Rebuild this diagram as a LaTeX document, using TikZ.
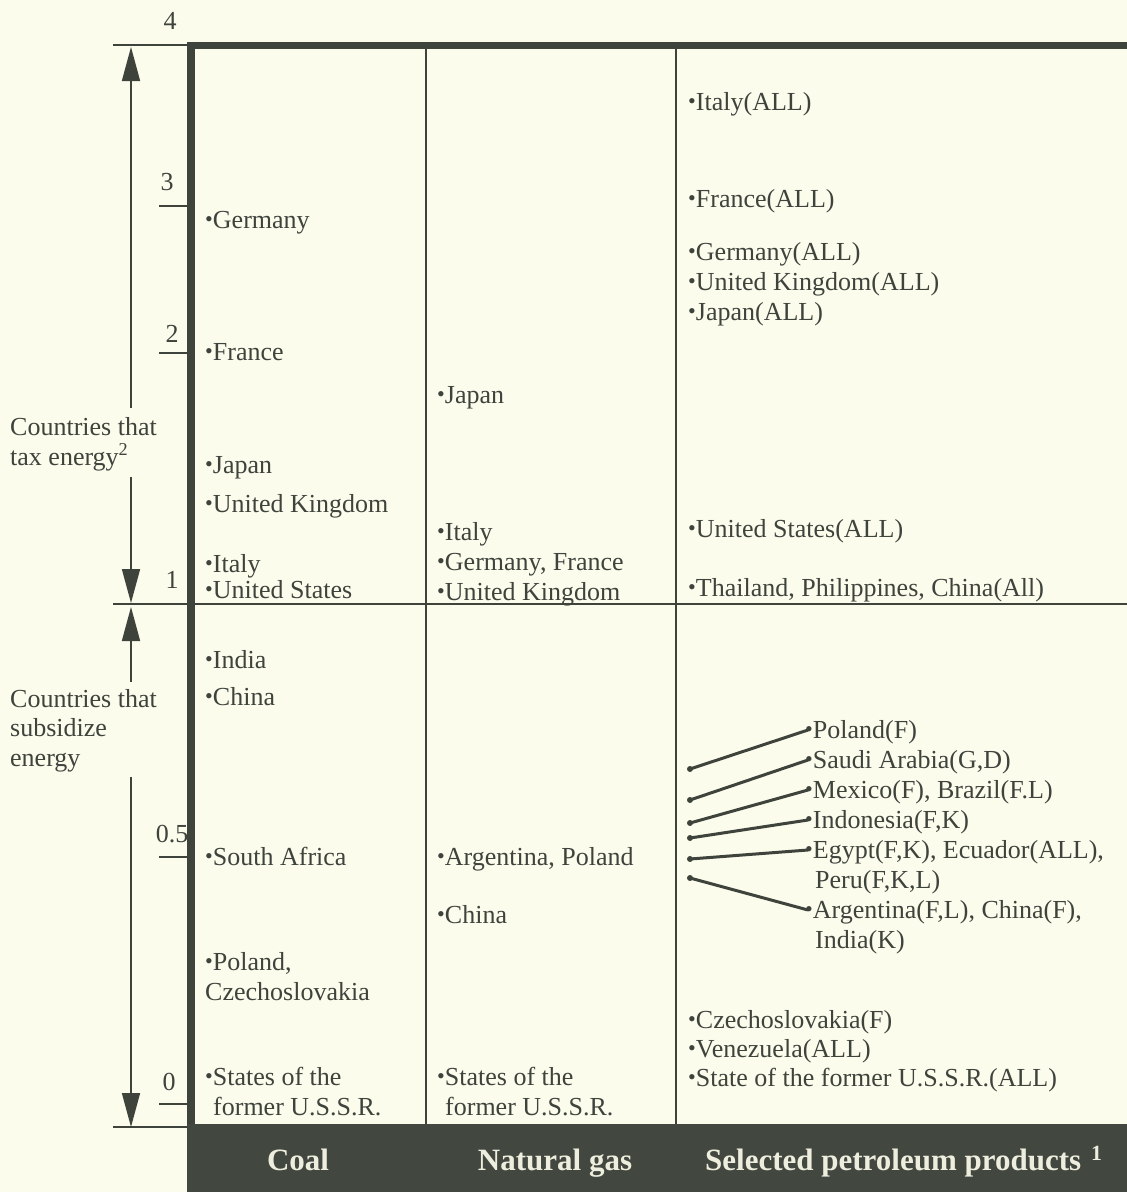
\documentclass[tikz,border=0pt]{standalone}
\usepackage{fontspec}
\setmainfont{Liberation Serif}
\usepackage{graphicx}
\usetikzlibrary{arrows.meta}
\definecolor{bg}{RGB}{252,252,237}
\definecolor{ink}{RGB}{62,67,60}
\definecolor{barc}{RGB}{66,71,64}
\definecolor{bartext}{RGB}{238,238,222}
\newcommand\bu{\raisebox{1.2pt}{\scalebox{0.85}{•}}}
\begin{document}
\begin{tikzpicture}[x=1pt,y=-1pt,
  lbl/.style={anchor=base west,inner sep=0pt,align=left,text=ink,font=\fontsize{26}{30}\selectfont},
  num/.style={anchor=base,inner sep=0pt,text=ink,font=\fontsize{26}{30}\selectfont},
  side/.style={anchor=base west,inner sep=0pt,align=left,text=ink,font=\fontsize{26}{29.5}\selectfont},
  thinline/.style={draw=ink,line width=2pt},
  axisarrow/.style={draw=ink,line width=1.6pt,-{Triangle[width=18pt,length=34pt]}},
  link/.style={draw=ink,line width=3pt},
  hdr/.style={anchor=base,inner sep=0pt,text=bartext,font=\fontsize{31}{36}\selectfont\bfseries}]
\useasboundingbox (0,0) rectangle (1127,1192);
\fill[bg] (0,0) rectangle (1127,1192);
% bottom bar
\fill[barc] (187,1124) rectangle (1127,1192);
% frame and grid
\draw[ink,line width=7pt] (187,45) -- (1127,45);
\draw[ink,line width=8pt] (191,41.5) -- (191,1124);
\draw[thinline] (426,45) -- (426,1124);
\draw[thinline] (676,45) -- (676,1124);
\draw[thinline] (113,604) -- (1127,604);
\draw[thinline] (113,45) -- (188,45);
\draw[thinline] (113,1127) -- (188,1127);
% ticks
\draw[thinline] (159,206) -- (188,206);
\draw[thinline] (159,353) -- (188,353);
\draw[thinline] (159,857) -- (188,857);
\draw[thinline] (159,1104) -- (188,1104);
% numbers
\node[num] (n4) at (170,29) {4};
\node[num] (n3) at (167,190) {3};
\node[num] (n2) at (172,342) {2};
\node[num] (n1) at (172,588) {1};
\node[num] (n05) at (172,842) {0.5};
\node[num] (n0) at (169,1090) {0};
% side labels (base = last line)
\node[side] (tax) at (10,465) {Countries that\\tax energy\textsuperscript{2}};
\node[side] (sub) at (10,766) {Countries that\\subsidize\\energy};
% axis arrows
\coordinate (a4) at (131,47);
\coordinate (a1u) at (131,603);
\coordinate (a1d) at (131,607);
\coordinate (a0) at (131,1127);
\coordinate (t1) at (131,408);
\coordinate (t2) at (131,477);
\coordinate (s1) at (131,682);
\coordinate (s2) at (131,777);
\draw[axisarrow] (t1) -- (a4);
\draw[axisarrow] (t2) -- (a1u);
\draw[axisarrow] (s1) -- (a1d);
\draw[axisarrow] (s2) -- (a0);
% coal
\node[lbl] (cGer) at (205,228) {\bu Germany};
\node[lbl] (cFra) at (205,360) {\bu France};
\node[lbl] (cJap) at (205,473) {\bu Japan};
\node[lbl] (cUK) at (205,512) {\bu United Kingdom};
\node[lbl] (cIta) at (205,572) {\bu Italy};
\node[lbl] (cUS) at (205,598) {\bu United States};
\node[lbl] (cInd) at (205,668) {\bu India};
\node[lbl] (cChi) at (205,705) {\bu China};
\node[lbl] (cSA) at (205,865) {\bu South Africa};
\node[lbl] (cPol) at (205,1000) {\bu Poland,\\Czechoslovakia};
\node[lbl] (cUSSR) at (205,1115) {\bu States of the\\\hspace*{8pt}former U.S.S.R.};
% natural gas
\node[lbl] (gJap) at (437,403) {\bu Japan};
\node[lbl] (gIta) at (437,540) {\bu Italy};
\node[lbl] (gGF) at (437,570) {\bu Germany, France};
\node[lbl] (gUK) at (437,600) {\bu United Kingdom};
\node[lbl] (gArg) at (437,865) {\bu Argentina, Poland};
\node[lbl] (gChi) at (437,923) {\bu China};
\node[lbl] (gUSSR) at (437,1115) {\bu States of the\\\hspace*{8pt}former U.S.S.R.};
% petroleum
\node[lbl] (pIta) at (688,110) {\bu Italy(ALL)};
\node[lbl] (pFra) at (688,207) {\bu France(ALL)};
\node[lbl] (pGer) at (688,260) {\bu Germany(ALL)};
\node[lbl] (pUK) at (688,290) {\bu United Kingdom(ALL)};
\node[lbl] (pJap) at (688,320) {\bu Japan(ALL)};
\node[lbl] (pUS) at (688,537) {\bu United States(ALL)};
\node[lbl] (pTha) at (688,596) {\bu Thailand, Philippines, China(All)};
\node[lbl] (p1) at (805,738) {\bu Poland(F)};
\node[lbl] (p2) at (805,768) {\bu Saudi Arabia(G,D)};
\node[lbl] (p3) at (805,798) {\bu Mexico(F), Brazil(F.L)};
\node[lbl] (p4) at (805,828) {\bu Indonesia(F,K)};
\node[lbl] (p5) at (805,888) {\bu Egypt(F,K), Ecuador(ALL),\\\hspace*{10pt}Peru(F,K,L)};
\node[lbl] (p6) at (805,948) {\bu Argentina(F,L), China(F),\\\hspace*{10pt}India(K)};
\node[lbl] (pCze) at (688,1028) {\bu Czechoslovakia(F)};
\node[lbl] (pVen) at (688,1057) {\bu Venezuela(ALL)};
\node[lbl] (pUSSR) at (688,1086) {\bu State of the former U.S.S.R.(ALL)};
% connectors
\coordinate (q1) at (690,769);
\coordinate (q2) at (690,800);
\coordinate (q3) at (690,823);
\coordinate (q4) at (690,838);
\coordinate (q5) at (690,859);
\coordinate (q6) at (690,878);
\foreach \i/\up in {1/8,2/8,3/8,4/8,5/38,6/38}{
  \draw[link] (q\i) -- ([xshift=3pt,yshift=\up pt]p\i.base west);
  \fill[ink] (q\i) circle (3pt);
}
% headers
\node[hdr] (hCoal) at (298,1170) {Coal};
\node[hdr] (hGas) at (555,1170) {Natural gas};
\node[hdr,anchor=base west] (hPet) at (705,1170) {Selected petroleum products\hspace{10pt}\textsuperscript{1}};
\end{tikzpicture}
\end{document}
